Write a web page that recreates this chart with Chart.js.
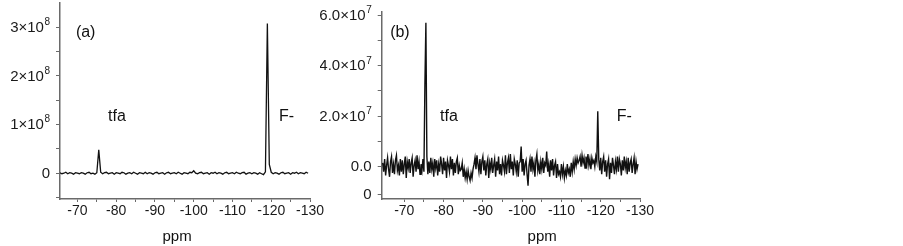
<!DOCTYPE html>
<html>
<head>
<meta charset="utf-8">
<script src="https://cdn.jsdelivr.net/npm/chart.js@4.4.0/dist/chart.umd.min.js"></script>
<style>
  body { margin: 0; background: #fff; width: 903px; height: 246px; overflow: hidden; position: relative; }
  canvas { position: absolute; top: 0; }
  #chartA { left: 0; }
  #chartB { left: 320px; }
</style>
</head>
<body>
<canvas id="chartA" width="345" height="246"></canvas>
<canvas id="chartB" width="340" height="246"></canvas>
<script>
// ---------------- data ----------------
// panel (a): intensity in units of 1e8, sampled every 0.5 ppm from -65.5
const ppmStartA = -65.5;
const ppmStepA = -0.5;
const intensityA = [
  0.01, -0.01, 0.00, 0.02, -0.01, 0.01, 0.00, -0.02, 0.01, 0.00,
  -0.01, 0.01, 0.00, -0.02, 0.01, 0.02, -0.01, 0.00, -0.02, 0.01,
  0.48, 0.02, -0.01, 0.01, 0.02, -0.01, 0.00, 0.01, -0.02, 0.01,
  0.00, -0.01, 0.02, 0.01, -0.02, 0.00, 0.01, -0.01, 0.02, 0.00,
  -0.02, 0.01, 0.00, -0.01, 0.02, -0.01, 0.01, 0.00, -0.02, 0.01,
  0.02, -0.01, 0.00, 0.01, -0.02, 0.01, 0.02, -0.01, 0.00, 0.01,
  -0.01, 0.02, 0.00, -0.02, 0.01, 0.00, -0.01, 0.02, 0.01, 0.05,
  0.00, -0.01, 0.01, 0.02, -0.01, 0.00, 0.01, -0.02, 0.01, 0.00,
  0.02, -0.01, 0.01, 0.00, -0.02, 0.01, 0.02, -0.01, 0.00, 0.01,
  -0.01, 0.02, 0.00, -0.01, 0.01, 0.02, -0.02, 0.00, 0.01, -0.01,
  0.01, 0.00, -0.02, 0.01, -0.01, -0.03, 0.03, 3.08,
  0.18, 0.02, -0.01, 0.01, 0.00, -0.02, 0.01, 0.02, -0.01, 0.00,
  0.01, -0.02, 0.01, 0.00, 0.02, -0.01, 0.01, 0.00, -0.01, 0.02, 0.00
];

// panel (b): intensity in units of 1e7, sampled every 0.25 ppm from -64.5
const ppmStartB = -64.5;
const ppmStepB = -0.25;
const intensityB = [
  0.15, -0.2, 0.3, -0.35, 0.05, 0.35, -0.1, -0.4, 0.2, 0.4, -0.25, 0.1, -0.3, 0.25, 0.45, -0.15, 0.05, -0.35, 0.3, -0.2,
  0.25, -0.3, 0.1, 0.4, -0.45, 0.2, -0.05, 0.3, -0.25, 0.15, 0.35, -0.4, 0.05, 0.25, -0.2, 0.45, -0.1, 0.2, -0.3, 0.1,
  -0.15, 0.3, -0.2, 3.3, 5.7, 0.4, -0.3, 0.2, -0.25, 0.35, -0.1, 0.15, -0.4, 0.3, -0.05, 0.25, -0.35, 0.1, -0.2, 0.4,
  0.1, -0.3, 0.35, -0.15, 0.2, -0.45, 0.25, 0.05, -0.2, 0.4, -0.1, 0.3, -0.35, 0.15, -0.25, 0.2, 0.35, -0.3, 0.05, -0.15,
  -0.1, 0.15, -0.4, -0.1, -0.45, -0.2, -0.5, -0.15, -0.4, -0.55, -0.25, -0.45, -0.1, 0.1, 0.35, -0.1, 0.45, 0.1, -0.2, 0.3,
  -0.3, 0.2, 0.4, -0.15, 0.25, -0.35, 0.1, 0.3, -0.45, 0.15, -0.1, 0.35, -0.25, 0.05, 0.3, -0.4, 0.2, -0.15, 0.4, -0.3,
  0.1, -0.35, 0.25, 0.05, -0.2, 0.45, -0.3, 0.15, 0.35, -0.25, 0.5, -0.1, 0.2, -0.35, 0.3, 0.1, -0.2, 0.25, -0.4, 0.15,
  0.2, 0.8, -0.2, 0.3, -0.35, 0.1, 0.25, -0.3, -0.75, 0.05, 0.3, -0.2, 0.4, -0.1, 0.15, -0.4, 0.25, 0.5, -0.15, 0.1,
  -0.3, 0.2, -0.1, 0.35, -0.25, 0.15, 0.05, 0.6, -0.2, 0.1, -0.4, 0.25, -0.15, 0.3, -0.35, 0.05, 0.2, -0.45, 0.1, -0.3,
  -0.2, -0.4, 0.1, -0.3, 0.0, -0.45, -0.15, -0.35, 0.1, -0.25, -0.1, -0.4, 0.15, -0.2, 0.2, -0.1, 0.3, 0.05, 0.35, 0.15,
  0.25, 0.4, 0.0, 0.45, 0.15, 0.35, -0.05, 0.4, 0.1, 0.5, 0.05, 0.3, -0.1, 0.35, 0.15, 0.25, 0.0, 0.4, 0.2, 2.2,
  0.3, -0.15, 0.35, -0.3, 0.2, 0.4, -0.2, 0.25, -0.4, 0.1, 0.3, -0.5, 0.15, -0.25, 0.35, 0.05, -0.3, 0.2, -0.1, 0.4,
  -0.2, 0.3, 0.1, -0.35, 0.25, -0.15, 0.4, -0.05, 0.2, -0.3, 0.35, -0.2, 0.15, 0.3, -0.25, 0.1, 0.35, -0.3, 0.2, -0.1,
  0.1
];

// tick values and labels
const xTicks = [-70, -75, -80, -85, -90, -95, -100, -105, -110, -115, -120, -125, -130];
const xTickLabels = ['-70', '-80', '-90', '-100', '-110', '-120', '-130'];
const yTicksA = [-0.5, 0, 0.5, 1, 1.5, 2, 2.5, 3];
const yLabelValuesA = [0, 1, 2, 3];
const yLabelTextA = [['0', ''], ['1×10', '8'], ['2×10', '8'], ['3×10', '8']];
const yTicksB = [-1.1, 0, 1, 2, 3, 4, 5, 6];
const yLabelValuesB = [-1.1, 0, 2, 4, 6];
const yLabelTextB = [['0', ''], ['0.0', ''], ['2.0×10', '7'], ['4.0×10', '7'], ['6.0×10', '7']];

// ---------------- helpers ----------------
function toPoints(start, step, vals) {
  return vals.map((v, i) => ({ x: start + i * step, y: v }));
}

const FONT = 'Arial, "Liberation Sans", sans-serif';

const textPlugin = {
  id: 'texts',
  afterDraw(chart, args, opts) {
    const ctx = chart.ctx;
    const xs = chart.scales.x, ys = chart.scales.y;
    ctx.save();
    ctx.fillStyle = '#111';
    ctx.textBaseline = 'middle';
    opts.items.forEach(it => {
      ctx.font = it.font || '16px ' + FONT;
      ctx.textAlign = it.align || 'left';
      const px = xs.getPixelForValue(it.x);
      const py = it.y === 'title' ? chart.chartArea.bottom + 38 : ys.getPixelForValue(it.y);
      ctx.fillText(it.text, px, py);
    });
    // y labels with superscript exponents
    const right = chart.chartArea.left - 10;
    ctx.fillStyle = '#1a1a1a';
    ctx.textAlign = 'left';
    opts.yValues.forEach((v, k) => {
      const [base, sup] = opts.yText[k];
      const py = ys.getPixelForValue(v);
      ctx.font = '10px ' + FONT;
      const ws = sup ? ctx.measureText(sup).width + 0.5 : 0;
      ctx.font = '15px ' + FONT;
      const wb = ctx.measureText(base).width;
      ctx.fillText(base, right - ws - wb, py + 0.5);
      if (sup) {
        ctx.font = '10px ' + FONT;
        ctx.fillText(sup, right - ws + 0.5, py - 5);
      }
    });
    ctx.restore();
  }
};

const axisColor = '#6a6a6a';
const tickFont = { family: FONT, size: 14 };

function makeChart(id, pts, o) {
  return new Chart(document.getElementById(id), {
    type: 'line',
    data: {
      datasets: [{
        data: pts,
        borderColor: '#111',
        borderWidth: o.lineWidth,
        pointRadius: 0,
        tension: 0
      }]
    },
    options: {
      responsive: false,
      animation: false,
      devicePixelRatio: 1,
      layout: { padding: { top: o.top, right: o.right, left: 0, bottom: 0 } },
      plugins: {
        legend: { display: false },
        tooltip: { enabled: false },
        texts: { items: o.texts, yValues: o.yLabelValues, yText: o.yLabelText }
      },
      scales: {
        x: {
          type: 'linear',
          reverse: true,
          min: -130,
          max: o.xMax,
          afterBuildTicks: s => { s.ticks = xTicks.map(v => ({ value: v })); },
          afterFit: s => { s.height = 47; },
          border: { display: true, color: axisColor, width: 1.5 },
          grid: { drawOnChartArea: false, drawTicks: true, tickLength: 3, color: axisColor },
          ticks: {
            autoSkip: false,
            maxRotation: 0,
            padding: 1,
            color: '#1a1a1a',
            font: tickFont,
            callback: v => xTickLabels.includes(String(v)) ? String(v) : ''
          }
        },
        y: {
          min: o.yMin,
          max: o.yMax,
          afterBuildTicks: s => { s.ticks = o.yTicks.map(v => ({ value: v })); },
          afterFit: s => { s.width = o.yWidth; s.paddingTop = 0; s.paddingBottom = 0; },
          border: { display: true, color: axisColor, width: 1.5 },
          grid: { drawOnChartArea: false, drawTicks: true, tickLength: 4, color: axisColor },
          ticks: { display: false }
        }
      }
    },
    plugins: [textPlugin]
  });
}

makeChart('chartA', toPoints(ppmStartA, ppmStepA, intensityA), {
  lineWidth: 1.3, top: 3, right: 35, xMax: -65.5,
  yMin: -0.53, yMax: 3.5, yWidth: 60,
  yTicks: yTicksA, yLabelValues: yLabelValuesA, yLabelText: yLabelTextA,
  texts: [
    { text: '(a)', x: -69.6, y: 2.9 },
    { text: 'tfa', x: -77.9, y: 1.16 },
    { text: 'F-', x: -122.0, y: 1.16 },
    { text: 'ppm', x: -95.7, y: 'title', align: 'center', font: '15px ' + FONT }
  ]
});

makeChart('chartB', toPoints(ppmStartB, ppmStepB, intensityB), {
  lineWidth: 1.4, top: 12, right: 20, xMax: -64.25,
  yMin: -1.28, yMax: 6.13, yWidth: 61.7,
  yTicks: yTicksB, yLabelValues: yLabelValuesB, yLabelText: yLabelTextB,
  texts: [
    { text: '(b)', x: -66.4, y: 5.33 },
    { text: 'tfa', x: -79.1, y: 2.0 },
    { text: 'F-', x: -124.1, y: 2.0 },
    { text: 'ppm', x: -105.1, y: 'title', align: 'center', font: '15px ' + FONT }
  ]
});
</script>
</body>
</html>
